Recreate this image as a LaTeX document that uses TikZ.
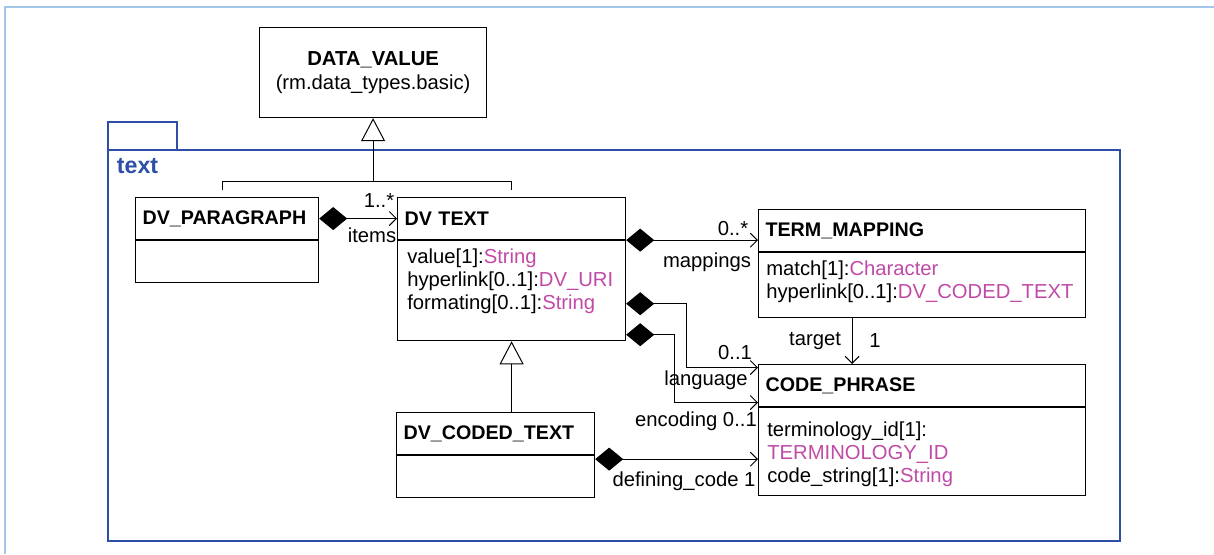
\documentclass[tikz,border=0pt]{standalone}
\usepackage{fontspec}
\setmainfont{Liberation Sans}
\usetikzlibrary{arrows.meta,positioning,calc}
\definecolor{pkgblue}{HTML}{2D50A6}
\definecolor{typepink}{HTML}{C04AA5}
\definecolor{framebl}{HTML}{A4C6E8}
\newcommand{\ty}[1]{\textcolor{typepink}{#1}}

\begin{document}
\begin{tikzpicture}[
    x=0.025cm, y=-0.025cm,
    font=\fontsize{14.4}{16.5}\selectfont,
    hdr/.style={draw, line width=0.8pt, anchor=north west, inner xsep=0.175cm, minimum height=1.05cm, align=left, font=\fontsize{14}{16}\selectfont\bfseries},
    bdy/.style={draw, line width=0.8pt, anchor=north west},
    attr/.style={anchor=north west, inner sep=0pt, align=left},
    lbl/.style={inner sep=1pt},
    comp/.style={{Diamond[length=0.7cm, width=0.575cm]}-{Straight Barb[length=5pt, width=10pt]}, line width=0.7pt},
    gen/.style={-{Triangle[open, fill=white, length=0.575cm, width=0.6cm]}, line width=0.7pt},
    assoc/.style={-{Straight Barb[length=5pt, width=10pt]}, line width=0.7pt}
]
\useasboundingbox (0,0) rectangle (1214,554);

% outer frame
\draw[framebl, line width=0.8pt] (5,554) -- (5,7) -- (1214,7);

% package
\draw[pkgblue, line width=1.5pt] (108,150) -- (108,122) -- (177,122) -- (177,150);
\draw[pkgblue, line width=1.5pt] (108,150) rectangle (1120,541);
\node[anchor=west, text=pkgblue, font=\fontsize{16.5}{18}\selectfont\bfseries] (pkg) at (112,166) {text};

% superclass
\node[draw, line width=0.8pt, anchor=north west, minimum width=5.675cm, minimum height=2.25cm, align=center, font=\fontsize{14.4}{17}\selectfont] (dataval) at (259,27) {\textbf{DATA\_VALUE}\\(rm.data\_types.basic)};

% classes
\node[hdr, text width=4.225cm] (para-h) at (135,197) {DV\_PARAGRAPH};
\node[bdy, minimum width=4.575cm, minimum height=1.05cm] (para-b) at (para-h.south west) {};

\node[hdr, text width=5.35cm] (dvtext-h) at (397,197) {DV TEXT};
\node[bdy, minimum width=5.7cm, minimum height=2.5cm] (dvtext-b) at (dvtext-h.south west) {};
\node[attr] (dvtext-a) at ($(dvtext-b.north west)+(10,8)$) {value[1]:\ty{String}\\hyperlink[0..1]:\ty{DV\_URI}\\formating[0..1]:\ty{String}};

\node[hdr, text width=4.6cm] (coded-h) at (396,412) {DV\_CODED\_TEXT};
\node[bdy, minimum width=4.95cm, minimum height=1.05cm] (coded-b) at (coded-h.south west) {};

\node[hdr, text width=7.825cm] (termmap-h) at (758,209) {TERM\_MAPPING};
\node[bdy, minimum width=8.175cm, minimum height=1.625cm] (termmap-b) at (termmap-h.south west) {};
\node[attr] (termmap-a) at ($(termmap-b.north west)+(8,8)$) {match[1]:\ty{Character}\\hyperlink[0..1]:\ty{DV\_CODED\_TEXT}};

\node[hdr, text width=7.825cm] (codephr-h) at (758,364) {CODE\_PHRASE};
\node[bdy, minimum width=8.175cm, minimum height=2.2cm] (codephr-b) at (codephr-h.south west) {};
\node[attr] (codephr-a) at ($(codephr-b.north west)+(9,14)$) {terminology\_id[1]:\\\ty{TERMINOLOGY\_ID}\\code\_string[1]:\ty{String}};

% generalisation to DATA_VALUE
\coordinate (genbar) at ($(dataval.south)+(0,63)$);
\draw[line width=0.7pt] ($(para-h.north)+(-5,-7)$) |- (genbar) -| ($(dvtext-h.north)+(0,-7)$);
\draw[gen] (genbar) -- (dataval.south);

% items
\draw[comp] (para-h.east) -- (dvtext-h.west);
\node[lbl] (items-m) at (379,201) {1..*};
\node[lbl] (items-r) at (372,235) {items};

% mappings
\draw[comp] (dvtext-h.south east) -- (dvtext-h.south east -| termmap-h.west);
\node[lbl] (map-m) at (733,229) {0..*};
\node[lbl] (map-r) at (707,262) {mappings};

% language and encoding
\draw[comp] ($(dvtext-b.east)+(0,13)$) -- ++(60,0) |- ($(codephr-h.west)+(0,-18)$);
\draw[comp] ($(dvtext-b.east)+(0,44)$) -- ++(48,0) |- ($(codephr-h.west)+(0,17)$);
\node[lbl] (lang-m) at (735,353) {0..1};
\node[lbl] (lang-r) at (706,380) {language};
\node[lbl] (enc-r) at (696,421) {encoding 0..1};

% defining code
\coordinate (defc) at ($(coded-h.south east)+(0,4)$);
\draw[comp] (defc) -- (defc -| codephr-b.west);
\node[lbl] (def-r) at (684,481) {defining\_code 1};

% target
\coordinate (tgt) at ($(termmap-b.south)+(-70,0)$);
\draw[assoc] (tgt) -- (tgt |- codephr-h.north);
\node[lbl] (tgt-r) at (815,341) {target};
\node[lbl] (tgt-m) at (875,341) {1};

% DV_CODED_TEXT generalisation
\draw[gen] (coded-h.north -| dvtext-b.south) -- (dvtext-b.south);

\end{tikzpicture}
\end{document}
